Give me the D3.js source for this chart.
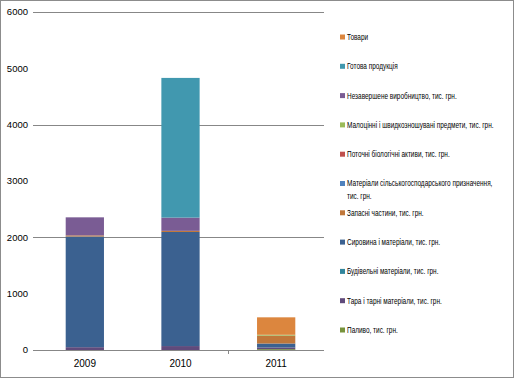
<!DOCTYPE html>
<html>
<head>
<meta charset="utf-8">
<script src="https://cdn.jsdelivr.net/npm/d3@7"></script>
<style>
  body { margin: 0; background: #fff; }
  text { font-family: "Liberation Sans", Arial, sans-serif; fill: #000; }
</style>
</head>
<body>
<script>
// stacked columns, series listed bottom -> top
const years = ['2009', '2010', '2011'];

const seriesNames = [
    'Паливо, тис. грн.',
    'Тара і тарні матеріали, тис. грн.',
    'Будівельні матеріали, тис. грн.',
    'Сировина і матеріали, тис. грн.',
    'Запасні частини, тис. грн.',
    'Матеріали сільськогосподарського призначення, тис. грн.',
    'Поточні біологічні активи, тис. грн.',
    'Малоцінні і швидкозношувані предмети, тис. грн.',
    'Незавершене виробництво, тис. грн.',
    'Готова продукція',
    'Товари'
];

const values2009 = [0, 50, 0, 1965, 20, 0, 0, 0, 320, 0, 0];
const values2010 = [0, 70, 0, 2025, 20, 0, 0, 0, 235, 2480, 0];
const values2011 = [15, 30, 0, 70, 140, 0, 0, 15, 0, 0, 310];

const seriesColors = ['#77933c', '#604a7b', '#31859c', '#3b6190', '#c0773a', '#4f81bd',
                      '#c0504d', '#9bbb59', '#7a5c94', '#4198af', '#dc863e'];

const yTicks = [0, 1000, 2000, 3000, 4000, 5000, 6000];
const yGrid = [0, 2000, 4000, 6000];

const W = 514, H = 378;
const plot = { left: 37, right: 324, top: 12, bottom: 350, gridStart: 33 };

const svg = d3.select('body').append('svg')
    .attr('width', W)
    .attr('height', H);

svg.append('rect')
    .attr('x', 0.5).attr('y', 0.5)
    .attr('width', W - 1).attr('height', H - 1)
    .attr('fill', '#fff')
    .attr('stroke', '#8c8c8c');

const table = years.map((y, i) => {
    const vals = [values2009, values2010, values2011][i];
    const row = { year: y };
    seriesNames.forEach((s, j) => row[s] = vals[j]);
    return row;
});

const x = d3.scaleBand()
    .domain(years)
    .range([plot.left, plot.right])
    .paddingInner(0.6)
    .paddingOuter(0.3);

const y = d3.scaleLinear()
    .domain([0, 6000])
    .range([plot.bottom, plot.top]);

// gridlines (every 2000)
svg.append('g')
    .selectAll('line').data(yGrid)
    .enter().append('line')
    .attr('x1', plot.gridStart)
    .attr('x2', plot.right)
    .attr('y1', d => Math.round(y(d)) + 0.5)
    .attr('y2', d => Math.round(y(d)) + 0.5)
    .attr('stroke', '#878787');

// y labels
svg.append('g')
    .selectAll('text').data(yTicks)
    .enter().append('text')
    .attr('x', 28)
    .attr('y', d => y(d))
    .attr('dy', '0.35em')
    .attr('text-anchor', 'end')
    .style('font-size', '9.5px')
    .text(d => d);

const stack = d3.stack().keys(seriesNames)(table);

svg.append('g')
    .selectAll('g').data(stack)
    .enter().append('g')
    .attr('fill', (d, i) => seriesColors[i])
    .selectAll('rect').data(d => d)
    .enter().append('rect')
    .attr('x', d => x(d.data.year))
    .attr('width', x.bandwidth())
    .attr('y', d => y(d[1]))
    .attr('height', d => y(d[0]) - y(d[1]));

// x axis line + the one category tick visible in the original
svg.append('line')
    .attr('x1', plot.gridStart).attr('x2', plot.right)
    .attr('y1', plot.bottom + 0.5).attr('y2', plot.bottom + 0.5)
    .attr('stroke', '#878787');

const bx = Math.round(x('2011') - x.step() * x.paddingInner() / 2) + 0.5;
svg.append('line')
    .attr('x1', bx).attr('x2', bx)
    .attr('y1', plot.bottom).attr('y2', plot.bottom + 4)
    .attr('stroke', '#878787');

svg.append('g')
    .selectAll('text').data(years)
    .enter().append('text')
    .attr('x', d => x(d) + x.bandwidth() / 2)
    .attr('y', 363)
    .attr('dy', '0.35em')
    .attr('text-anchor', 'middle')
    .style('font-size', '10px')
    .text(d => d);

// legend, top -> bottom is reverse of stack order
const legendItems = seriesNames.slice().reverse();
const ly = d3.scalePoint().domain(legendItems).range([37, 330]);
const squeeze = 0.76, maxW = 158;

const legend = svg.append('g');
// text is drawn horizontally squeezed, like the narrow font in the original
const legendText = svg.append('g')
    .attr('transform', `translate(347,0) scale(${squeeze},1)`);

legendItems.forEach(name => {
    const i = seriesNames.indexOf(name);
    const cy = ly(name);
    legend.append('rect')
        .attr('x', 340).attr('y', cy - 2.5)
        .attr('width', 5).attr('height', 5)
        .attr('fill', seriesColors[i]);

    // simple word wrap on squeezed widths
    const words = name.split(' ');
    let lines = [], line = [];
    const probe = legendText.append('text').style('font-size', '8.5px');
    words.forEach(w => {
        const test = line.concat(w).join(' ');
        probe.text(test);
        if (probe.node().getComputedTextLength() * squeeze > maxW && line.length) {
            lines.push(line.join(' '));
            line = [w];
        } else {
            line.push(w);
        }
    });
    lines.push(line.join(' '));
    probe.remove();

    lines.forEach((l, k) => {
        legendText.append('text')
            .attr('x', 0)
            .attr('y', cy + k * 13)
            .attr('dy', '0.35em')
            .style('font-size', '8.5px')
            .text(l);
    });
});
</script>
</body>
</html>
